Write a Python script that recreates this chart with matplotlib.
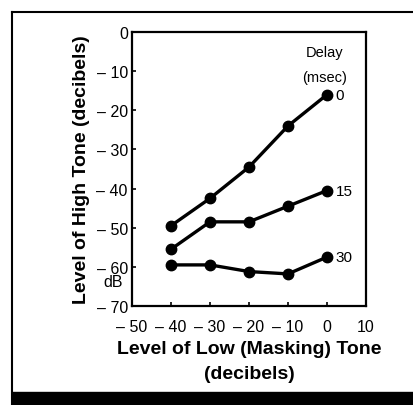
import numpy as np
import matplotlib.pyplot as plt
from matplotlib.patches import Rectangle

plt.rcParams['font.family'] = ['Liberation Sans', 'DejaVu Sans']

masker = [-40, -30, -20, -10, 0]
delay_0 = [-49.5, -42.5, -34.5, -24, -16]
delay_15 = [-55.5, -48.5, -48.5, -44.5, -40.5]
delay_30 = [-59.5, -59.5, -61.2, -61.8, -57.5]
delays = ['0', '15', '30']

xticks = [-50, -40, -30, -20, -10, 0, 10]
xticklabels = ['\u2013 50', '\u2013 40', '\u2013 30', '\u2013 20', '\u2013 10', '0', '10']
yticks = [0, -10, -20, -30, -40, -50, -60, -70]
yticklabels = ['0', '\u2013 10', '\u2013 20', '\u2013 30', '\u2013 40', '\u2013 50', '\u2013 60', '\u2013 70']

fig = plt.figure(figsize=(4.14, 4.06), dpi=100)
ax = fig.add_axes([132 / 414, 1 - 307 / 406, 234 / 414, 274 / 406])

for ys, lab in zip([delay_0, delay_15, delay_30], delays):
    ax.plot(masker, ys, color='black', lw=2.4, marker='o', ms=7.5)
    ax.text(masker[-1] + 2.2, ys[-1], lab, fontsize=11, va='center', ha='left')

ax.text(-0.5, -5, 'Delay', fontsize=10.5, ha='center', va='center')
ax.text(-0.5, -11.5, '(msec)', fontsize=10.5, ha='center', va='center')

ax.set_xlim(-50, 10)
ax.set_ylim(-70, 0)
ax.set_xticks(xticks)
ax.set_xticklabels(xticklabels, fontsize=11.5)
ax.set_yticks(yticks)
ax.set_yticklabels(yticklabels, fontsize=11.5)
ax.tick_params(direction='in', length=3, width=1.2)
ax.tick_params(axis='x', pad=9)
ax.tick_params(axis='y', pad=3)
for s in ax.spines.values():
    s.set_linewidth(1.6)

ax.text(-0.082, 0.088, 'dB', transform=ax.transAxes, fontsize=11.5, ha='center', va='center')

ax.set_ylabel('Level of High Tone (decibels)', fontsize=14, fontweight='heavy', labelpad=5)
ax.set_xlabel('Level of Low (Masking) Tone\n(decibels)', fontsize=14, fontweight='heavy',
              linespacing=1.55, labelpad=5)

# outer frame and bottom band
fig.add_artist(plt.Line2D([12 / 414, 1], [1 - 13 / 406, 1 - 13 / 406], color='black', lw=1.5,
                          transform=fig.transFigure))
fig.add_artist(plt.Line2D([12 / 414, 12 / 414], [1 - 13 / 406, 0], color='black', lw=1.5,
                          transform=fig.transFigure))
fig.add_artist(Rectangle((12 / 414, 0), 1, 13 / 406, color='black', transform=fig.transFigure))

fig.savefig('out.png', dpi=100)
